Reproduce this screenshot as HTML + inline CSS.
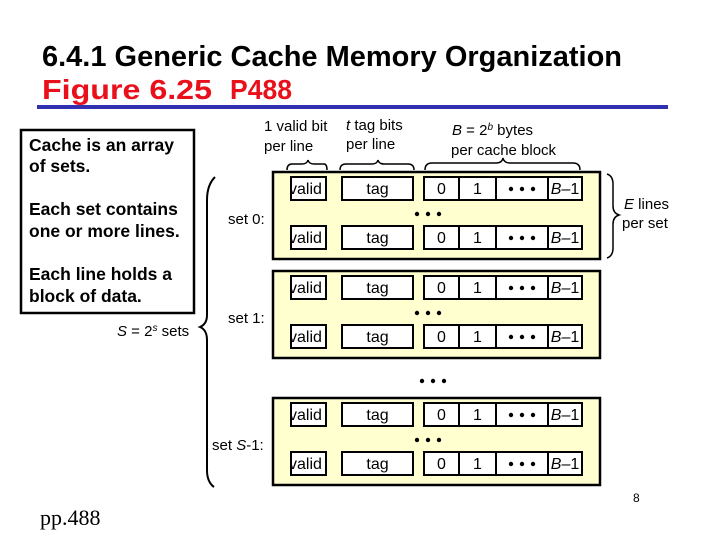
<!DOCTYPE html>
<html><head><meta charset="utf-8"><style>
html,body{margin:0;padding:0;background:#fff;}
svg{display:block;font-family:"Liberation Sans",Arial,sans-serif;}
</style></head><body>
<svg width="720" height="540" viewBox="0 0 720 540" xmlns="http://www.w3.org/2000/svg">
<defs>
<clipPath id="vc"><rect x="291" y="0" width="35" height="23"/></clipPath>
<g id="row">
  <rect x="291" y="0" width="35" height="23" fill="#fff" stroke="#000" stroke-width="2"/>
  <text x="289" y="17" font-size="16" clip-path="url(#vc)">valid</text>
  <rect x="342" y="0" width="71" height="23" fill="#fff" stroke="#000" stroke-width="2"/>
  <text x="377.5" y="17" font-size="16" text-anchor="middle">tag</text>
  <rect x="424" y="0" width="158" height="23" fill="#fff" stroke="#000" stroke-width="2"/>
  <line x1="459" y1="0" x2="459" y2="23" stroke="#000" stroke-width="2"/>
  <line x1="496" y1="0" x2="496" y2="23" stroke="#000" stroke-width="2"/>
  <line x1="548" y1="0" x2="548" y2="23" stroke="#000" stroke-width="2"/>
  <text x="441.5" y="17" font-size="16" text-anchor="middle">0</text>
  <text x="477.5" y="17" font-size="16" text-anchor="middle">1</text>
  <circle cx="511" cy="12" r="2.2"/><circle cx="522" cy="12" r="2.2"/><circle cx="533" cy="12" r="2.2"/>
  <text x="565" y="17" font-size="16" text-anchor="middle"><tspan font-style="italic">B</tspan>–1</text>
</g>
<g id="set">
  <rect x="273" y="0" width="327" height="87" fill="#ffffd0" stroke="#000" stroke-width="2.5"/>
  <use href="#row" y="5"/>
  <use href="#row" y="54"/>
  <circle cx="417" cy="42" r="2.2"/><circle cx="428" cy="42" r="2.2"/><circle cx="439" cy="42" r="2.2"/>
</g>
</defs>

<text x="42" y="66" font-size="29" font-weight="bold" textLength="580" lengthAdjust="spacingAndGlyphs">6.4.1 Generic Cache Memory Organization</text>
<text x="42" y="99" font-size="28" font-weight="bold" fill="#e8101a" textLength="170" lengthAdjust="spacingAndGlyphs">Figure 6.25</text>
<text x="230" y="99" font-size="28" font-weight="bold" fill="#e8101a" textLength="62" lengthAdjust="spacingAndGlyphs">P488</text>
<rect x="37" y="105" width="631" height="4" fill="#3030b0"/>

<rect x="21" y="130" width="173" height="183" fill="#fff" stroke="#000" stroke-width="2.5"/>
<g font-size="17.5" font-weight="bold">
<text x="29" y="151">Cache is an array</text>
<text x="29" y="172">of sets.</text>
<text x="29" y="215">Each set contains</text>
<text x="29" y="237">one or more lines.</text>
<text x="29" y="280">Each line holds a</text>
<text x="29" y="302">block of data.</text>
</g>
<text x="117" y="336" font-size="15"><tspan font-style="italic">S</tspan> = 2<tspan font-style="italic" font-size="10" dy="-5">s</tspan><tspan dy="5"> sets</tspan></text>

<path d="M215,177 Q207,185 207,200 L207,315 Q207,324 200,327 Q207,330 207,340 L207,470 Q207,482 214,487" fill="none" stroke="#000" stroke-width="2"/>

<g font-size="15">
<text x="264" y="131">1 valid bit</text>
<text x="264" y="151">per line</text>
<text x="346" y="130"><tspan font-style="italic">t</tspan> tag bits</text>
<text x="346" y="149">per line</text>
<text x="452" y="135"><tspan font-style="italic">B</tspan> = 2<tspan font-style="italic" font-size="10" dy="-5">b</tspan><tspan dy="5"> bytes</tspan></text>
<text x="451" y="155">per cache block</text>
<text x="624" y="209"><tspan font-style="italic">E</tspan>  lines</text>
<text x="622" y="228">per set</text>
<text x="228" y="224">set 0:</text>
<text x="228" y="323">set 1:</text>
<text x="212" y="450">set <tspan font-style="italic">S</tspan>-1:</text>
</g>
<g fill="none" stroke="#000" stroke-width="1.5">
<path d="M287,170 Q287,164 292,164 L302,164 Q307,164 308,160 Q309,164 314,164 L324,164 Q327,164 327,170"/>
<path d="M340,170 Q340,164 346,164 L372,164 Q377,164 378,160 Q379,164 384,164 L408,164 Q414,164 414,170"/>
<path d="M425,170 Q425,163 432,163 L496,163 Q502,163 503,158 Q504,163 510,163 L573,163 Q580,163 580,170"/>
<path d="M607,174 Q613,176 613,184 L613,206 Q613,213 619,215 Q613,217 613,224 L613,248 Q613,256 607,258"/>
</g>

<use href="#set" y="172"/>
<use href="#set" y="271"/>
<use href="#set" y="398"/>

<circle cx="422" cy="381" r="2.2"/><circle cx="433" cy="381" r="2.2"/><circle cx="444" cy="381" r="2.2"/>

<text x="633" y="502" font-size="12">8</text>
<text x="40" y="525" font-size="22" font-family="'Liberation Serif',serif">pp.488</text>
</svg>
</body></html>
